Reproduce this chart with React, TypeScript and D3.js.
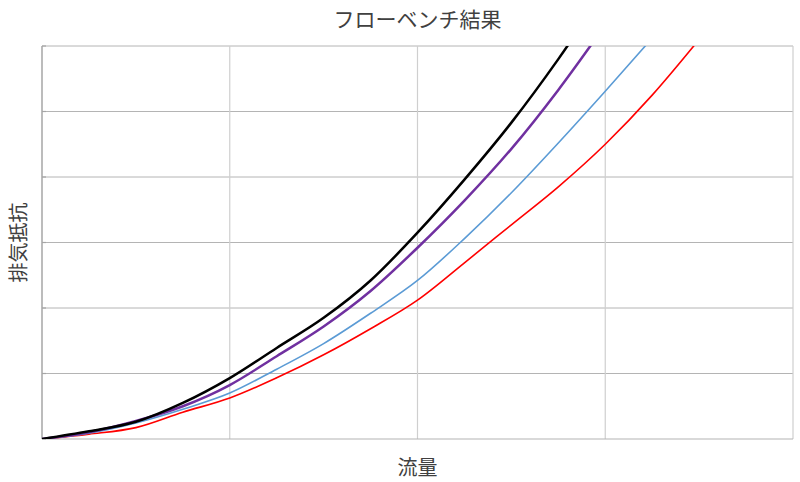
import React, { useEffect, useRef } from "react";
import * as d3 from "d3";

// flow values (x) shared by every series
const flow = [0, 25, 50, 75, 100, 125, 150, 175, 200, 225, 250, 275, 300, 325, 350];

// back pressure readings, one array per run
const seriesBlack = [0, 1.18, 2.63, 5.51, 9.3, 13.9, 18.5, 24.2, 31.5, 39.6, 48.3, 58.0, 68.6];
const seriesPurple = [0, 1.04, 2.75, 5.0, 8.24, 12.64, 17.18, 22.6, 29.2, 36.4, 44.3, 53.3, 63.2];
const seriesBlue = [0, 0.9, 2.46, 4.55, 7.02, 10.66, 14.57, 19.2, 24.2, 30.6, 37.6, 45.2, 53.1, 61.2];
const seriesRed = [0, 0.75, 1.74, 4.09, 6.26, 9.34, 12.86, 16.84, 21.2, 26.9, 32.7, 38.5, 45.0, 52.5, 61.0];

const xTicks = [0, 100, 200, 300, 400];
const yTicks = [0, 10, 20, 30, 40, 50, 60];

const title = "フローベンチ結果";
const xLabel = "流量";
const yLabel = "排気抵抗";

const FONT = "'Noto Sans CJK JP', 'Noto Sans', sans-serif";

export default function App() {
  const ref = useRef<SVGSVGElement>(null);

  useEffect(() => {
    const W = 800;
    const H = 482;
    const margin = { top: 46, right: 7, bottom: 43, left: 42 };
    const width = W - margin.left - margin.right;
    const height = H - margin.top - margin.bottom;

    const svg = d3.select(ref.current).attr("width", W).attr("height", H);
    svg.selectAll("*").remove();

    const x = d3.scaleLinear().domain([0, 400]).range([0, width]);
    const y = d3.scaleLinear().domain([0, 60]).range([height, 0]);

    svg.append("defs")
      .append("clipPath")
      .attr("id", "plotClip")
      .append("rect")
      .attr("width", width)
      .attr("height", height);

    const g = svg.append("g").attr("transform", `translate(${margin.left},${margin.top})`);

    // horizontal grid
    g.append("g")
      .selectAll("line")
      .data(yTicks.slice(1))
      .enter()
      .append("line")
      .attr("x1", 0)
      .attr("x2", width)
      .attr("y1", (d) => y(d))
      .attr("y2", (d) => y(d))
      .attr("stroke", "#b4b4b4")
      .attr("stroke-width", 1);

    // vertical grid
    g.append("g")
      .selectAll("line")
      .data(xTicks.slice(1))
      .enter()
      .append("line")
      .attr("x1", (d) => x(d))
      .attr("x2", (d) => x(d))
      .attr("y1", 0)
      .attr("y2", height)
      .attr("stroke", "#cfcfcf")
      .attr("stroke-width", 1.2);

    // axes
    g.append("line")
      .attr("x1", 0).attr("x2", 0).attr("y1", 0).attr("y2", height)
      .attr("stroke", "#a6a6a6").attr("stroke-width", 1.5);
    g.append("line")
      .attr("x1", 0).attr("x2", width).attr("y1", height).attr("y2", height)
      .attr("stroke", "#b4b4b4").attr("stroke-width", 1.2);
    g.append("g")
      .selectAll("line")
      .data(yTicks)
      .enter()
      .append("line")
      .attr("x1", 0).attr("x2", 4)
      .attr("y1", (d) => y(d)).attr("y2", (d) => y(d))
      .attr("stroke", "#a6a6a6").attr("stroke-width", 1.2);

    const line = d3
      .line<number>()
      .x((_, i) => x(flow[i]))
      .y((d) => y(d))
      .curve(d3.curveMonotoneX);

    const lines = [
      { values: seriesRed, color: "#ff0000", w: 1.6 },
      { values: seriesBlue, color: "#5b9bd5", w: 1.6 },
      { values: seriesPurple, color: "#7030a0", w: 2.5 },
      { values: seriesBlack, color: "#000000", w: 2.5 },
    ];

    const plot = g.append("g").attr("clip-path", "url(#plotClip)");
    lines.forEach((s) => {
      plot.append("path")
        .attr("d", line(s.values))
        .attr("fill", "none")
        .attr("stroke", s.color)
        .attr("stroke-width", s.w)
        .attr("stroke-linejoin", "round");
    });

    svg.append("text")
      .attr("x", margin.left + width / 2)
      .attr("y", 27)
      .attr("text-anchor", "middle")
      .attr("font-family", FONT)
      .attr("font-size", 21)
      .attr("fill", "#404040")
      .text(title);

    svg.append("text")
      .attr("x", margin.left + width / 2)
      .attr("y", 475)
      .attr("text-anchor", "middle")
      .attr("font-family", FONT)
      .attr("font-size", 20)
      .attr("fill", "#404040")
      .text(xLabel);

    svg.append("text")
      .attr("transform", `translate(26,${margin.top + height / 2}) rotate(-90)`)
      .attr("text-anchor", "middle")
      .attr("font-family", FONT)
      .attr("font-size", 20)
      .attr("fill", "#404040")
      .text(yLabel);
  }, []);

  return (
    <svg
      ref={ref}
      style={{ position: "absolute", left: 0, top: 0, background: "#fff" }}
    />
  );
}
